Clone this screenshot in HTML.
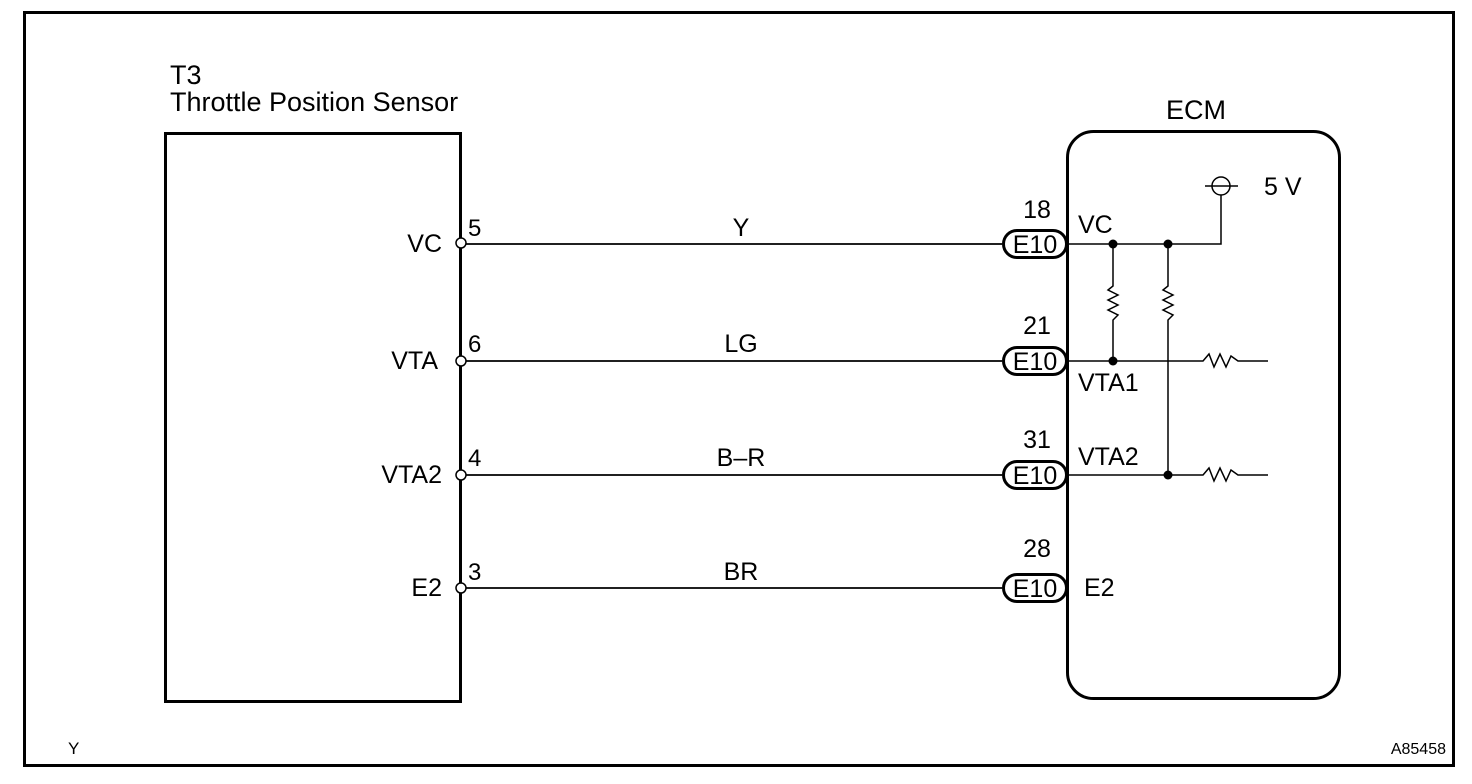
<!DOCTYPE html>
<html><head><meta charset="utf-8"><style>
html,body{margin:0;padding:0;background:#fff;}
svg{display:block;}
text{font-family:"Liberation Sans",Arial,sans-serif;fill:#000;}
</style></head><body>
<svg width="1472" height="784" viewBox="0 0 1472 784" xmlns="http://www.w3.org/2000/svg">
<rect x="24.5" y="12.5" width="1429" height="753" fill="none" stroke="#000" stroke-width="3"/>
<text x="170" y="84" font-size="27">T3</text>
<text x="170" y="111" font-size="27">Throttle Position Sensor</text>
<rect x="165.5" y="133.5" width="295" height="568" fill="none" stroke="#000" stroke-width="3"/>
<text x="1196" y="119" font-size="27" text-anchor="middle">ECM</text>
<rect x="1067.5" y="131.5" width="272" height="567" rx="26" fill="none" stroke="#000" stroke-width="3"/>
<g stroke="#000" stroke-width="1.8" fill="none">
<line x1="461" y1="244" x2="1002" y2="244"/>
<line x1="461" y1="361" x2="1002" y2="361"/>
<line x1="461" y1="475" x2="1002" y2="475"/>
<line x1="461" y1="588" x2="1002" y2="588"/>
</g>
<g fill="#fff" stroke="#000" stroke-width="1.5">
<circle cx="461" cy="243" r="5"/><circle cx="461" cy="361" r="5"/><circle cx="461" cy="475" r="5"/><circle cx="461" cy="588" r="5"/>
</g>
<g font-size="25" text-anchor="end">
<text x="442" y="252">VC</text><text x="438" y="369">VTA</text><text x="442" y="483">VTA2</text><text x="442" y="596">E2</text>
</g>
<g font-size="24">
<text x="468" y="236">5</text><text x="468" y="352">6</text><text x="468" y="466">4</text><text x="468" y="580">3</text>
</g>
<g font-size="25" text-anchor="middle">
<text x="741" y="236">Y</text><text x="741" y="352">LG</text><text x="741" y="466">B–R</text><text x="741" y="580">BR</text>
</g>
<g fill="#fff" stroke="#000" stroke-width="3">
<rect x="1003.5" y="230.5" width="63" height="27" rx="13.5"/>
<rect x="1003.5" y="347.5" width="63" height="27" rx="13.5"/>
<rect x="1003.5" y="461.5" width="63" height="27" rx="13.5"/>
<rect x="1003.5" y="574.5" width="63" height="27" rx="13.5"/>
</g>
<g font-size="25" text-anchor="middle">
<text x="1035" y="253">E10</text><text x="1035" y="370">E10</text><text x="1035" y="484">E10</text><text x="1035" y="597">E10</text>
<text x="1037" y="218">18</text><text x="1037" y="334">21</text><text x="1037" y="448">31</text><text x="1037" y="557">28</text>
</g>
<g font-size="25">
<text x="1078" y="233">VC</text><text x="1078" y="391">VTA1</text><text x="1078" y="465">VTA2</text><text x="1084" y="596">E2</text>
<text x="1264" y="195">5 V</text>
</g>
<g stroke="#000" stroke-width="1.5" fill="none">
<polyline points="1068,244 1221,244 1221,195"/>
<circle cx="1221" cy="186" r="9"/>
<line x1="1205" y1="186" x2="1238" y2="186"/>
<polyline points="1113,244 1113,286 1108,290 1118,295 1108,300 1118,305 1108,310 1118,315 1113,320 1113,361"/>
<polyline points="1168,244 1168,286 1163,290 1173,295 1163,300 1173,305 1163,310 1173,315 1168,320 1168,475"/>
<polyline points="1068,361 1203,361 1209,354 1214,367 1220,354 1226,367 1231,356 1238,361 1268,361"/>
<polyline points="1068,475 1203,475 1209,468 1214,481 1220,468 1226,481 1231,470 1238,475 1268,475"/>
</g>
<g fill="#000">
<circle cx="1113" cy="244" r="4.5"/><circle cx="1168" cy="244" r="4.5"/><circle cx="1113" cy="361" r="4.5"/><circle cx="1168" cy="475" r="4.5"/>
</g>
<text x="68" y="754" font-size="17">Y</text>
<text x="1446" y="754" font-size="16" text-anchor="end">A85458</text>
</svg>
</body></html>
